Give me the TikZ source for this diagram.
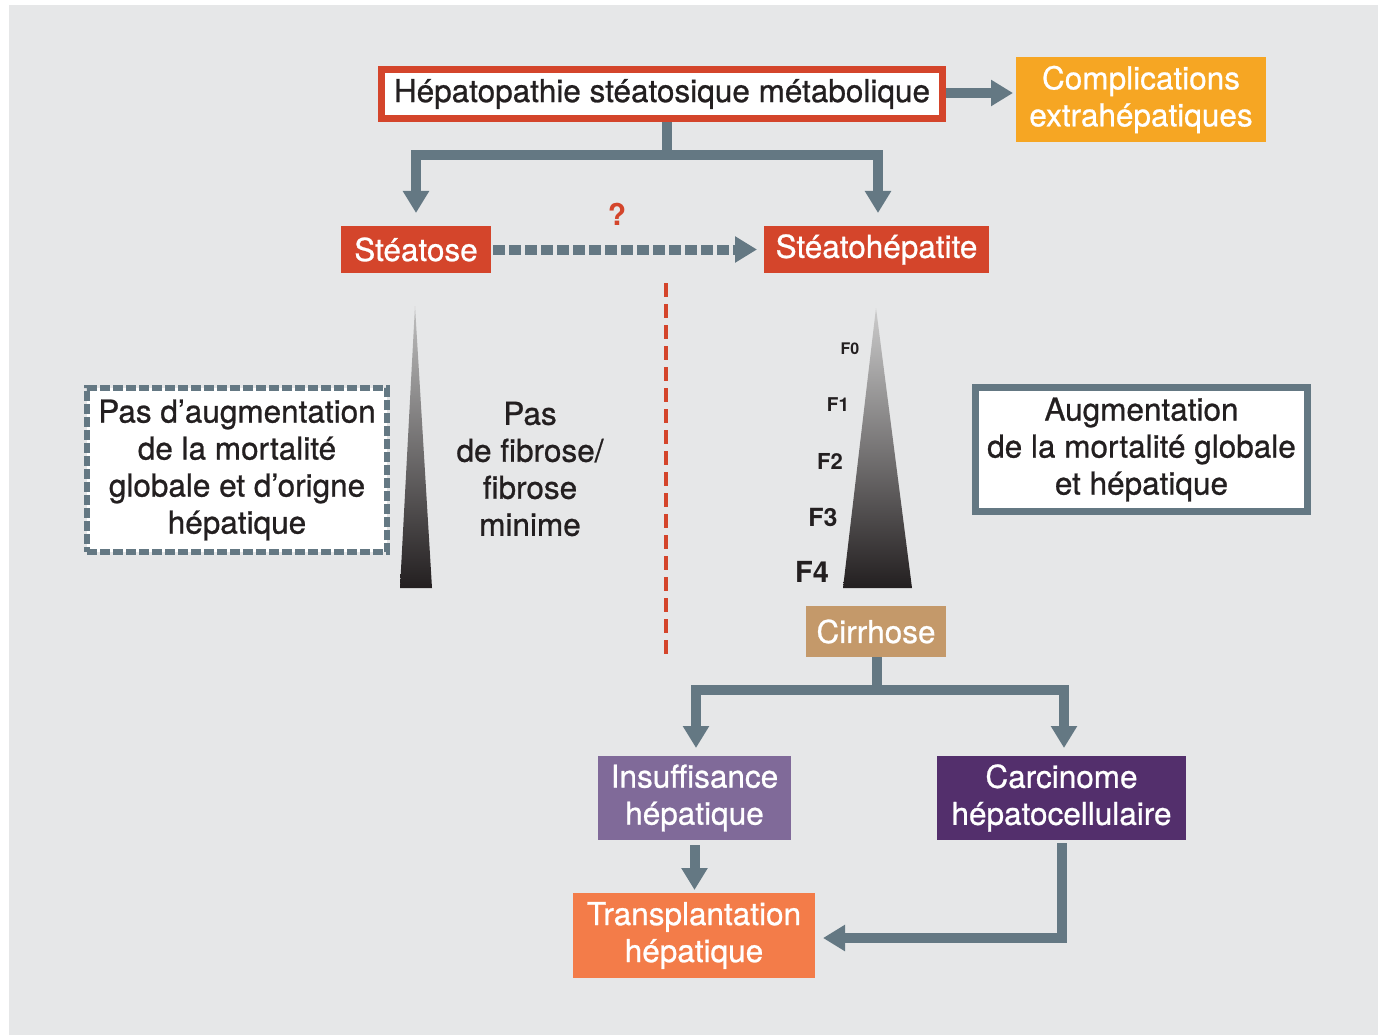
\documentclass[tikz,border=0pt]{standalone}
\usepackage{fontspec}
\setmainfont{TeX Gyre Heros}
\newfontfamily\heavy{TeX Gyre Heros}[FakeBold=0.8]
\usetikzlibrary{arrows.meta}

\definecolor{panel}{HTML}{E6E7E8}
\definecolor{slate}{HTML}{647883}
\definecolor{brick}{HTML}{D4452B}
\definecolor{amber}{HTML}{F6A623}
\definecolor{tan}{HTML}{C4996A}
\definecolor{lilac}{HTML}{806A99}
\definecolor{plum}{HTML}{532F6C}
\definecolor{coral}{HTML}{F37C49}
\definecolor{ink}{HTML}{231F20}

\newcommand\boxfont{\heavy\fontsize{31.5}{37}\selectfont}

\tikzset{
  flow/.style={draw=slate, line width=10pt, line join=miter},
  tip/.style={-{Triangle[width=25pt,length=22pt]}},
  solidbox/.style={rectangle, inner sep=0pt, outer sep=0pt, text=white,
    font=\boxfont, align=center},
  framebox/.style={rectangle, inner sep=0pt, fill=white, text=ink,
    font=\boxfont, align=center},
  plaintext/.style={inner sep=0pt, text=ink, font=\boxfont, align=center},
  stage/.style={inner sep=0pt, text=ink, font=\bfseries\fontsize{#1}{#1}\selectfont},
}

\begin{document}
\begin{tikzpicture}[x=1pt, y=-1pt]
\useasboundingbox (0,0) rectangle (1378,1035);
\fill[white] (0,0) rectangle (1378,1035);
\fill[panel] (9,5) rectangle (1378,1035);

% top of the chart
\node[framebox, draw=brick, line width=7pt, minimum width=561pt, minimum height=49pt]
  (hsm) at (662,94) {Hépatopathie stéatosique métabolique};
\node[solidbox, fill=amber, minimum width=250pt, minimum height=85pt]
  (comp) at (1141,99.5) {Complications\\extrahépatiques};
\draw[flow, tip, shorten >=3pt] (hsm.east |- 0,93) -- (comp.west |- 0,93);

% steatosis and steatohepatitis
\node[solidbox, fill=brick, minimum width=150pt, minimum height=47pt]
  (ste) at (416,249.5) {Stéatose};
\node[solidbox, fill=brick, minimum width=225pt, minimum height=47pt]
  (steh) at (876.5,249.5) {Stéatohépatite};

\coordinate (split1) at (667,155);
\draw[flow] (hsm.south -| split1) -- (split1);
\draw[flow, tip, shorten >=13pt] (split1) -| (ste.north);
\draw[flow, tip, shorten >=13pt] (split1) -| (steh.north -| 878,0);

\draw[flow, tip, dash pattern=on 12pt off 4pt, shorten <=2pt, shorten >=7pt]
  (ste.east) -- (steh.west);
\node[text=brick, font=\bfseries\fontsize{30}{30}\selectfont, inner sep=0pt] (q) at (617,214) {?};

% divider between the two evolutions
\coordinate (divtop) at (666,283);
\coordinate (divbot) at (666,655);
\draw[brick, line width=3.5pt, dash pattern=on 14pt off 7pt] (divtop) -- (divbot);

% fibrosis wedges
\shade[top color=black!25, bottom color=ink] (415,306) -- (432,588) -- (400,588) -- cycle;
\shade[top color=black!20, bottom color=ink] (876,308) -- (912,588) -- (843,588) -- cycle;

\node[stage=16] (f0) at (850,349) {F0};
\node[stage=19] (f1) at (838,405) {F1};
\node[stage=22] (f2) at (830,461) {F2};
\node[stage=25] (f3) at (823,517) {F3};
\node[stage=29] (f4) at (812,572) {F4};

% prognosis boxes
\node[framebox, draw=slate, line width=6pt, dash pattern=on 10pt off 3pt,
  minimum width=300pt, minimum height=164pt]
  (nomort) at (237,470) {Pas d’augmentation\\de la mortalité\\globale et d’origne\\hépatique};
\node[plaintext] (fib) at (530,469) {Pas\\de fibrose/\\fibrose\\minime};
\node[framebox, draw=slate, line width=7pt, minimum width=332pt, minimum height=124pt]
  (mort) at (1141.5,449.5) {Augmentation\\de la mortalité globale\\et hépatique};

% cirrhosis and its outcomes
\node[solidbox, fill=tan, minimum width=140pt, minimum height=51pt]
  (cir) at (876,631.5) {Cirrhose};
\node[solidbox, fill=lilac, minimum width=193pt, minimum height=84pt]
  (ins) at (694.5,798) {Insuffisance\\hépatique};
\node[solidbox, fill=plum, minimum width=249pt, minimum height=84pt]
  (hcc) at (1061.5,798) {Carcinome\\hépatocellulaire};
\node[solidbox, fill=coral, minimum width=242pt, minimum height=85pt]
  (tx) at (694,935.5) {Transplantation\\hépatique};

\coordinate (split2) at (877,690);
\draw[flow] (cir.south -| split2) -- (split2);
\draw[flow, tip, shorten >=8pt] (split2) -| (ins.north -| 696,0);
\draw[flow, tip, shorten >=8pt] (split2) -| (hcc.north -| 1064,0);

\draw[flow, tip, shorten <=5pt, shorten >=3pt] (ins.south) -- (tx.north -| ins.south);
\draw[flow, tip, shorten <=3pt, shorten >=8pt] (hcc.south) |- (tx.east |- 0,938);
\end{tikzpicture}
\end{document}
